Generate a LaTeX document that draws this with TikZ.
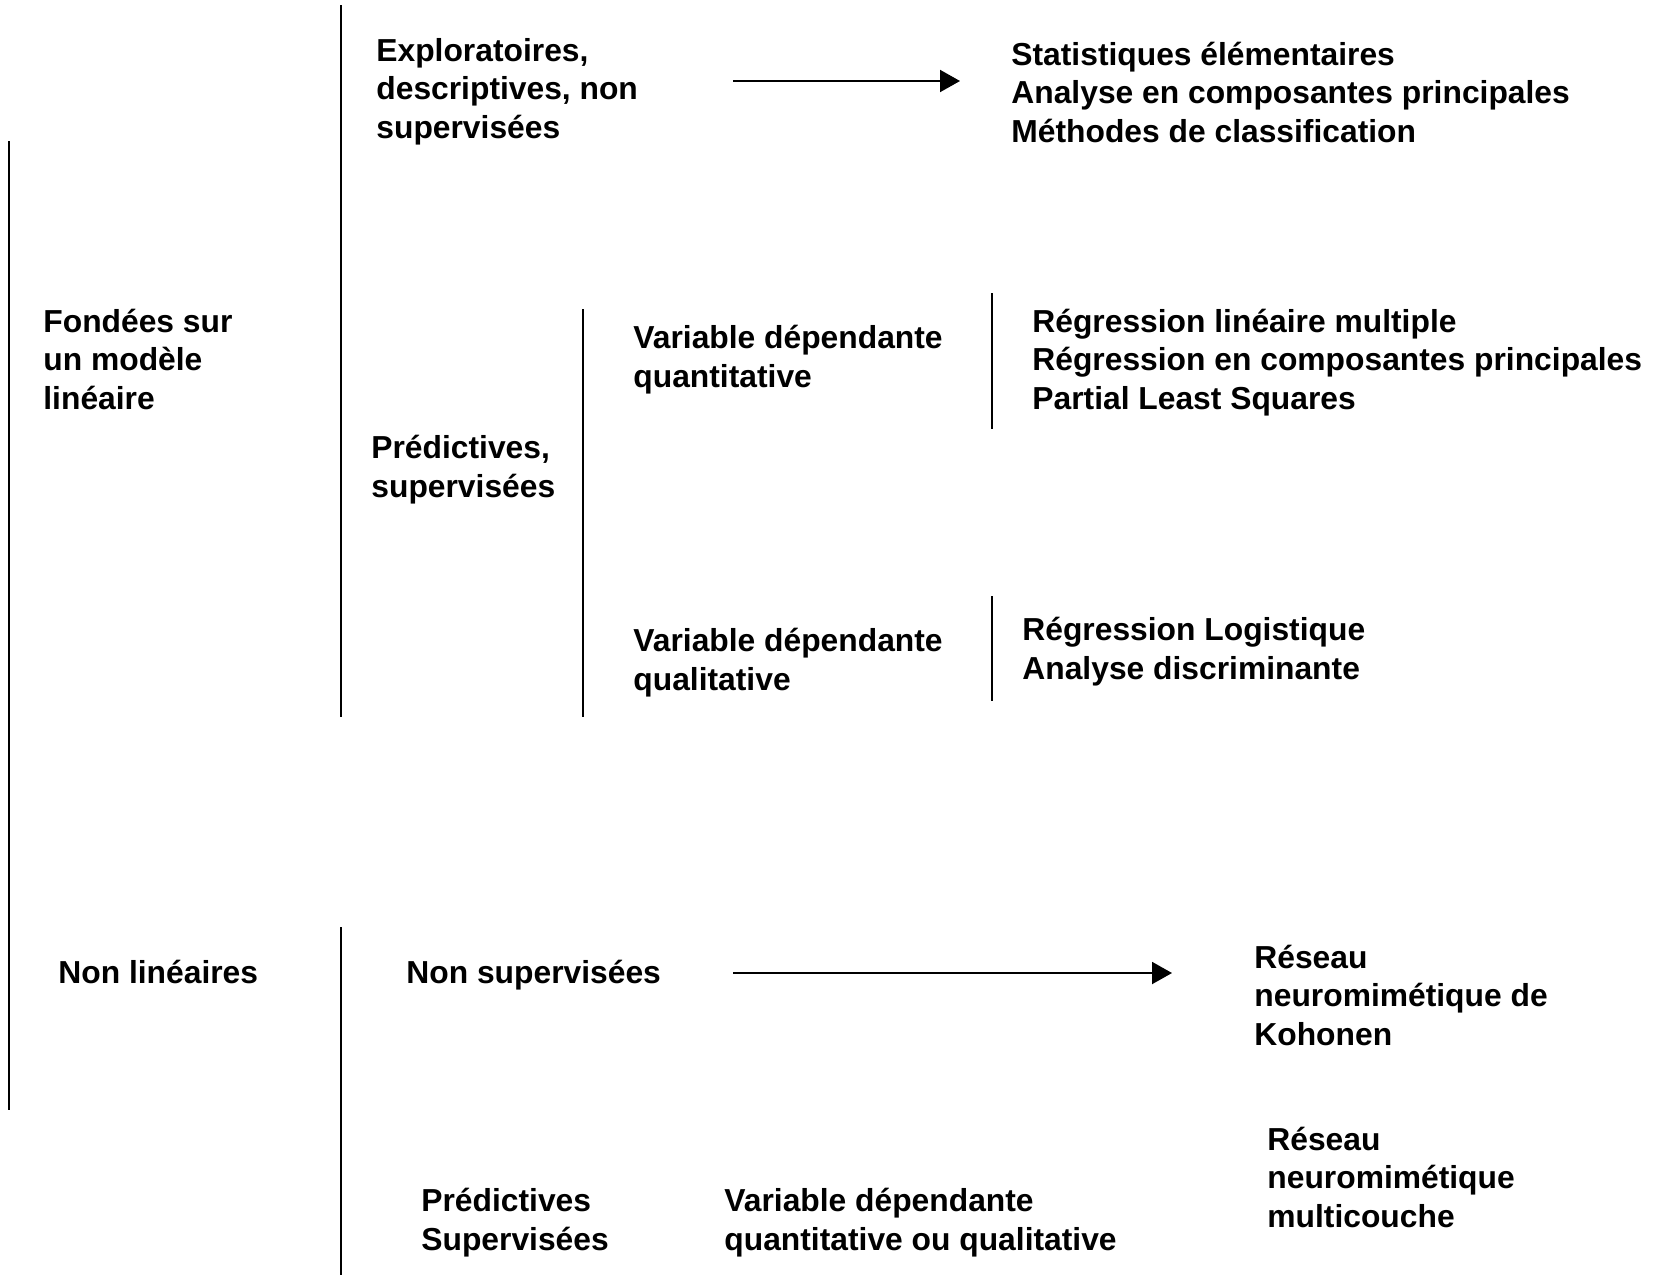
\documentclass[tikz,border=0pt]{standalone}
\usepackage{fontspec}
\setmainfont{Liberation Sans}
\usetikzlibrary{arrows.meta}
\begin{document}
\begin{tikzpicture}[x=0.5pt,y=-0.5pt,
  lbl/.style={anchor=base west,inner sep=0pt,align=left,font=\fontsize{15.9}{19.2}\selectfont\bfseries},
  rule/.style={line width=1pt},
  arr/.style={line width=1pt,-{Triangle[length=10pt,width=11pt]}}]
\useasboundingbox (0,0) rectangle (1670,1275);
% vertical rules
\draw[rule] (9,141) -- (9,1110);
\draw[rule] (341,5) -- (341,717);
\draw[rule] (341,927) -- (341,1275);
\draw[rule] (583,309) -- (583,717);
\draw[rule] (992,293) -- (992,429);
\draw[rule] (992,596) -- (992,701);
% texts (anchor = baseline of last line)
\node[lbl] (expl) at (376,138) {Exploratoires,\\descriptives, non\\supervisées};
\node[lbl] (stat) at (1011,142) {Statistiques élémentaires\\Analyse en composantes principales\\Méthodes de classification};
\node[lbl] (fond) at (43,409) {Fondées sur\\un modèle\\linéaire};
\node[lbl] (vquant) at (633,387) {Variable dépendante\\quantitative};
\node[lbl] (reglin) at (1032,409) {Régression linéaire multiple\\Régression en composantes principales\\Partial Least Squares};
\node[lbl] (pred) at (371,497) {Prédictives,\\supervisées};
\node[lbl] (vqual) at (633,690) {Variable dépendante\\qualitative};
\node[lbl] (reglog) at (1022,679) {Régression Logistique\\Analyse discriminante};
\node[lbl] (nonlin) at (58,983) {Non linéaires};
\node[lbl] (nonsup) at (406,983) {Non supervisées};
\node[lbl] (koh) at (1254,1045) {Réseau\\neuromimétique de\\Kohonen};
\node[lbl] (multi) at (1267,1227) {Réseau\\neuromimétique\\multicouche};
\node[lbl] (predsup) at (421,1250) {Prédictives\\Supervisées};
\node[lbl] (vqq) at (724,1250) {Variable dépendante\\quantitative ou qualitative};
% arrows
\coordinate (a1s) at (733,81);
\coordinate (a1e) at (960,81);
\coordinate (a2s) at (733,973);
\coordinate (a2e) at (1172,973);
\draw[arr] (a1s) -- (a1e);
\draw[arr] (a2s) -- (a2e);
\end{tikzpicture}
\end{document}
